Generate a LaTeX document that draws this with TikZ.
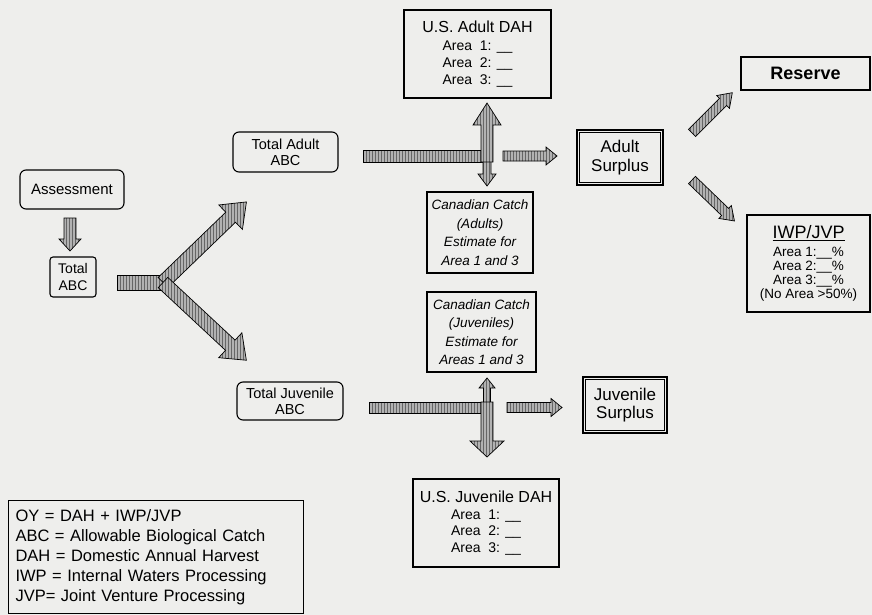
\documentclass[tikz,border=0pt]{standalone}
\usepackage{fontspec}
\setmainfont{Liberation Sans}
\usetikzlibrary{patterns}
\definecolor{bgc}{HTML}{EEEEEC}
\tikzset{
  barrow/.style={draw=black, line width=0.7pt, preaction={fill=gray!60}, pattern=vertical lines, pattern color=black!60},
  rbox/.style={draw, line width=1.1pt, rounded corners=6pt, align=center, inner sep=2pt},
  sbox/.style={draw, line width=1.1pt, align=center, inner sep=2pt},
  inframe/.style={draw, line width=1.1pt},
}
\newcommand\myarrow[6]{\begin{scope}[shift={#1},rotate=#2]
\draw[barrow] (0,-#4) -- ({#3-#6},-#4) -- ({#3-#6},-#5) -- (#3,0) -- ({#3-#6},#5) -- ({#3-#6},#4) -- (0,#4) -- cycle;
\end{scope}}
\begin{document}
\begin{tikzpicture}[x=1pt,y=-1pt]
\fill[bgc] (0,0) rectangle (872,615);
\useasboundingbox (0,0) rectangle (872,615);

% boxes
\node[rbox, minimum width=104pt, minimum height=39pt, font=\fontsize{15}{16}\selectfont] (assess) at (72,189.5) {Assessment};
\node[rbox, rounded corners=3pt, minimum width=46pt, minimum height=40pt, font=\fontsize{14}{17}\selectfont] (totabc) at (73,277) {Total\\ABC};
\node[rbox, minimum width=105pt, minimum height=40pt, font=\fontsize{14.5}{16}\selectfont] (adultabc) at (285.5,152) {Total Adult\\ABC};
\node[rbox, minimum width=106pt, minimum height=38pt, font=\fontsize{14.5}{16}\selectfont] (juvabc) at (290,401) {Total Juvenile\\ABC};

\node[sbox, minimum width=147pt, minimum height=88pt, font=\fontsize{14}{17}\selectfont] (usadult) at (477.5,54)
  {{\fontsize{16}{18}\selectfont U.S. Adult DAH}\\[1pt] Area~~1: \_\_\\ Area~~2: \_\_\\ Area~~3: \_\_};
\node[sbox, minimum width=106pt, minimum height=81pt, font=\fontsize{13.5}{18.5}\selectfont\itshape] (cadult) at (480,232.5)
  {Canadian Catch\\(Adults)\\Estimate for\\Area 1 and 3};
\node[sbox, minimum width=109pt, minimum height=80pt, font=\fontsize{13.5}{18.5}\selectfont\itshape] (cjuv) at (481.5,332)
  {Canadian Catch\\(Juveniles)\\Estimate for\\Areas 1 and 3};
\node[sbox, minimum width=146pt, minimum height=88pt, font=\fontsize{14}{16.5}\selectfont] (usjuv) at (486,523)
  {{\fontsize{16}{18}\selectfont U.S. Juvenile DAH}\\[0pt] Area~~1: \_\_\\ Area~~2: \_\_\\ Area~~3: \_\_};

\node[sbox, minimum width=86pt, minimum height=55pt, font=\fontsize{17}{18.5}\selectfont] (asurplus) at (620,157.5) {Adult\\Surplus};
\draw[inframe] ([shift={(3,3)}]asurplus.north west) rectangle ([shift={(-3,-3)}]asurplus.south east);
\node[sbox, minimum width=84pt, minimum height=56pt, font=\fontsize{17}{18.5}\selectfont] (jsurplus) at (625,405) {Juvenile\\Surplus};
\draw[inframe] ([shift={(3,3)}]jsurplus.north west) rectangle ([shift={(-3,-3)}]jsurplus.south east);

\node[sbox, minimum width=129pt, minimum height=33pt, font=\fontsize{18}{20}\selectfont\bfseries] (reserve) at (805.5,73.5) {Reserve};
\node[sbox, minimum width=123pt, minimum height=97pt, font=\fontsize{13.5}{14}\selectfont] (iwp) at (808.5,263.5)
  {{\fontsize{18}{19}\selectfont\underline{IWP/JVP}}\\[4pt] Area 1:\_\_\%\\ Area 2:\_\_\%\\ Area 3:\_\_\%\\ (No Area >50\%)};

\node[sbox, anchor=north west, text width=281pt, inner xsep=7pt, inner ysep=5pt, minimum height=113pt, align=left, font=\fontsize{16.5}{20}\selectfont] (legend) at (8,500)
  {OY = DAH + IWP/JVP\\ ABC = Allowable Biological Catch\\ DAH = Domestic Annual Harvest\\ IWP = Internal Waters Processing\\ JVP= Joint Venture Processing};

% arrows
\myarrow{(70,218)}{-90}{33}{6}{11}{12}
\draw[barrow] (117,275) rectangle (170,290);
\myarrow{(163,282.5)}{44}{116}{7}{17}{22}
\myarrow{(163,282.5)}{-43}{114}{7}{17}{22}

\draw[barrow] (363,150) rectangle (490,162);
\myarrow{(487,150)}{-90}{36}{4}{9}{12}
\myarrow{(487,162)}{90}{59}{6}{14}{22}
\myarrow{(503,156)}{0}{54}{5}{9}{11}

\draw[barrow] (369,402) rectangle (490,413);
\myarrow{(487,413)}{90}{35}{3.5}{8}{10}
\myarrow{(487,402)}{-90}{55}{6}{17}{16}
\myarrow{(507,407.5)}{0}{55}{5}{9}{11}

\myarrow{(692,133)}{45}{57}{5}{9}{13}
\myarrow{(692,180)}{-44}{59}{5}{9}{13}
\end{tikzpicture}
\end{document}
